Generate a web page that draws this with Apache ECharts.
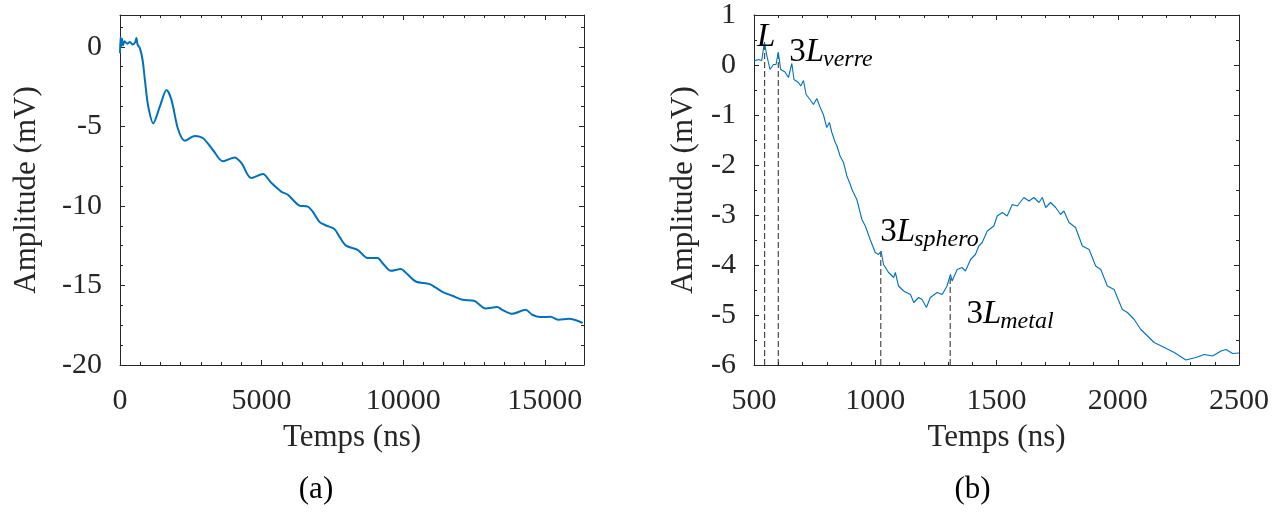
<!DOCTYPE html>
<html><head><meta charset="utf-8">
<script src="https://cdn.jsdelivr.net/npm/echarts@6/dist/echarts.min.js"></script>
<style>html,body{margin:0;padding:0;background:#fff}#c{width:1279px;height:513px}</style>
</head><body><div id="c"></div>
<script>
// ---------- data (a) ----------
const leftT = [0,20,40,70,110,160,250,350,450,540,580,620,704,798,880,998,1174,1408,1643,1819,2054,2289,2641,2934,3286,3638,4049,4284,4636,5047,5340,5692,5927,6338,6631,6807,7042,7277,7570,7746,7981,8392,8744,9096,9272,9566,9918,10094,10446,10915,11092,11385,11737,12090,12500,12911,13321,13497,13849,14319,14554,14847,15199,15493,15845,16338];
const leftV = [-0.4,0.6,0.0,0.5,0.1,0.35,0.2,0.3,0.15,0.3,0.55,0.15,-0.1,-0.83,-2.1,-3.75,-4.8,-3.75,-2.72,-3.35,-5.2,-5.9,-5.6,-5.75,-6.5,-7.2,-6.95,-7.3,-8.25,-8.0,-8.55,-9.1,-9.3,-9.98,-10.04,-10.36,-11.0,-11.23,-11.45,-11.93,-12.5,-12.76,-13.28,-13.28,-13.6,-14.08,-13.97,-14.2,-14.75,-14.9,-15.07,-15.4,-15.65,-15.9,-15.96,-16.45,-16.36,-16.53,-16.78,-16.53,-16.84,-16.99,-16.97,-17.16,-17.1,-17.36];
// ---------- data (b) ----------
const rightT = [500,518,532,543,552,566,580,591,600,610,628,642,656,665,683,693,704,715,731,745,759,773,786,800,811,821,835,842,855,869,883,897,904,924,945,959,979,1000,1014,1024,1034,1055,1076,1083,1096,1117,1145,1159,1179,1193,1211,1227,1255,1276,1296,1310,1317,1338,1358,1372,1393,1413,1427,1441,1462,1489,1503,1524,1544,1565,1586,1613,1634,1654,1675,1689,1703,1723,1744,1764,1778,1799,1826,1854,1882,1909,1930,1957,1985,2019,2040,2068,2095,2123,2150,2192,2233,2281,2322,2357,2391,2426,2446,2474,2500];
const rightV = [0.08,0.11,0.09,0.46,0.21,-0.09,0.01,0.01,0.26,-0.09,-0.14,-0.25,0.03,-0.29,-0.35,-0.42,-0.31,-0.59,-0.69,-0.79,-0.67,-0.85,-0.99,-1.25,-1.15,-1.35,-1.55,-1.62,-1.82,-1.95,-2.22,-2.39,-2.49,-2.69,-3.09,-3.22,-3.49,-3.75,-3.79,-3.72,-3.99,-4.15,-4.25,-4.15,-4.42,-4.52,-4.59,-4.75,-4.65,-4.69,-4.85,-4.65,-4.55,-4.59,-4.42,-4.19,-4.32,-4.09,-4.05,-4.12,-3.89,-3.79,-3.62,-3.55,-3.32,-3.22,-3.02,-2.95,-3.02,-2.79,-2.82,-2.65,-2.72,-2.65,-2.75,-2.65,-2.85,-2.75,-2.85,-2.99,-2.92,-3.15,-3.25,-3.62,-3.69,-4.02,-4.09,-4.42,-4.49,-4.89,-4.95,-5.09,-5.29,-5.42,-5.55,-5.65,-5.75,-5.9,-5.85,-5.79,-5.82,-5.72,-5.69,-5.77,-5.76];
// ---------- annotations (b) ----------
const markerT = [544, 600, 1023, 1309];
const markerTop = [0.40, 0.26, -3.75, -4.2];
const labelMain = ['L', '3L', '3L', '3L'];
const labelSub = ['', 'verre', 'sphero', 'metal'];
const labelT = [512, 645, 1021, 1376];
const labelV = [0.35, 0.05, -3.55, -5.19];
// ---------- tick labels ----------
const leftXLabels = ['0', '5000', '10000', '15000'];
const leftYLabels = ['-20', '-15', '-10', '-5', '0'];
const rightXLabels = ['500', '1000', '1500', '2000', '2500'];
const rightYLabels = ['-6', '-5', '-4', '-3', '-2', '-1', '0', '1'];
const xName = 'Temps (ns)';
const yName = 'Amplitude (mV)';
const panelNames = ['(a)', '(b)'];

const FAM = '"Liberation Serif", "Times New Roman", serif';
const AX = '#262626';
const BLUE = '#0072BD';

const chart = echarts.init(document.getElementById('c'), null, {renderer: 'canvas'});

function lbl(list) {
  return function (v) { const s = String(Math.round(v * 1000) / 1000); return list.indexOf(s) >= 0 ? s : ''; };
}
function mainAxis(pos, grid, min, max, interval, minorSplit, labels, name, nameGap) {
  return {
    type: 'value', gridIndex: grid, position: pos, min, max, interval,
    name, nameLocation: 'middle', nameGap,
    nameTextStyle: {fontFamily: FAM, fontSize: 31, color: AX},
    axisLine: {show: true, onZero: false, lineStyle: {color: AX, width: 1}},
    axisTick: {show: true, inside: true, length: 5, lineStyle: {color: AX}},
    minorTick: {show: true, splitNumber: minorSplit, length: 3, lineStyle: {color: AX}},
    splitLine: {show: false},
    axisLabel: {show: true, fontFamily: FAM, fontSize: 30, color: AX, margin: 18,
      showMaxLabel: labels.indexOf(String(max)) >= 0, formatter: lbl(labels)}
  };
}
function boxAxis(pos, grid, min, max, interval, minorSplit) {
  return {
    type: 'value', gridIndex: grid, position: pos, min, max, interval,
    axisLine: {show: true, onZero: false, lineStyle: {color: AX, width: 1}},
    axisTick: {show: true, inside: true, length: 5, lineStyle: {color: AX}},
    minorTick: {show: true, splitNumber: minorSplit, length: 3, lineStyle: {color: AX}},
    splitLine: {show: false}, axisLabel: {show: false}
  };
}

const xa0 = mainAxis('bottom', 0, 0, 16384, 5000, 7, leftXLabels, xName, 57);
xa0.axisLabel.margin = 21;
const xa1 = mainAxis('bottom', 1, 500, 2500, 500, 5, rightXLabels, xName, 57);
xa1.axisLabel.margin = 21;
const ya0 = mainAxis('left', 0, -20, 2, 5, 4, leftYLabels, yName, 78);
const ya1 = mainAxis('left', 1, -6, 1, 1, 2, rightYLabels, yName, 55);

const series = [
  {type: 'line', xAxisIndex: 0, yAxisIndex: 0, data: leftT.map((t, i) => [t, leftV[i]]),
   showSymbol: false, smooth: 0.3, lineStyle: {color: BLUE, width: 2}, z: 3},
  {type: 'line', xAxisIndex: 2, yAxisIndex: 2, data: rightT.map((t, i) => [t, rightV[i]]),
   showSymbol: false, lineStyle: {color: BLUE, width: 1.1}, z: 3}
];
markerT.forEach((t, i) => {
  series.push({type: 'line', xAxisIndex: 2, yAxisIndex: 2, data: [[t, -6], [t, markerTop[i]]],
    showSymbol: false, lineStyle: {color: AX, width: 1, type: [6, 3]}, z: 2});
});

chart.setOption({
  animation: false,
  backgroundColor: '#fff',
  grid: [
    {left: 120, top: 15, width: 464, height: 350, outerBoundsMode: 'none', containLabel: false},
    {left: 754, top: 15, width: 485, height: 350, outerBoundsMode: 'none', containLabel: false}
  ],
  xAxis: [xa0, boxAxis('top', 0, 0, 16384, 5000, 7), xa1, boxAxis('top', 1, 500, 2500, 500, 5)],
  yAxis: [ya0, boxAxis('right', 0, -20, 2, 5, 4), ya1, boxAxis('right', 1, -6, 1, 1, 2)],
  series
});

// annotation texts
const ctx = document.createElement('canvas').getContext('2d');
function tw(font, s) { ctx.font = font; return ctx.measureText(s).width; }
const MAIN = 33, SUB = 24;
const graphic = [];
function addText(x, baseline, s, size, italic) {
  const font = (italic ? 'italic ' : '') + size + 'px ' + FAM;
  graphic.push({type: 'text', x: x, y: baseline - 0.3 * size, z: 10,
    style: {text: s, font: font, fill: '#000', align: 'left', verticalAlign: 'middle'}});
  return tw(font, s);
}
labelMain.forEach((m, i) => {
  const p = chart.convertToPixel({xAxisIndex: 2, yAxisIndex: 2}, [labelT[i], labelV[i]]);
  let x = p[0];
  for (const ch of m) {
    const it = /[A-Za-z]/.test(ch);
    x += addText(x, p[1], ch, MAIN, it);
  }
  if (labelSub[i]) addText(x - 1, p[1] + 4, labelSub[i], SUB, true);
});
const g0 = chart.convertToPixel({xAxisIndex: 0, yAxisIndex: 0}, [8192, -20]);
const g1 = chart.convertToPixel({xAxisIndex: 2, yAxisIndex: 2}, [1500, -6]);
[[g0[0] - 36, panelNames[0]], [g1[0] - 24, panelNames[1]]].forEach(([cx, s]) => {
  graphic.push({type: 'text', x: cx, y: 490, style: {text: s, font: '31px ' + FAM, fill: '#000', align: 'center', verticalAlign: 'middle'}});
});
chart.setOption({graphic});
</script>
</body></html>
